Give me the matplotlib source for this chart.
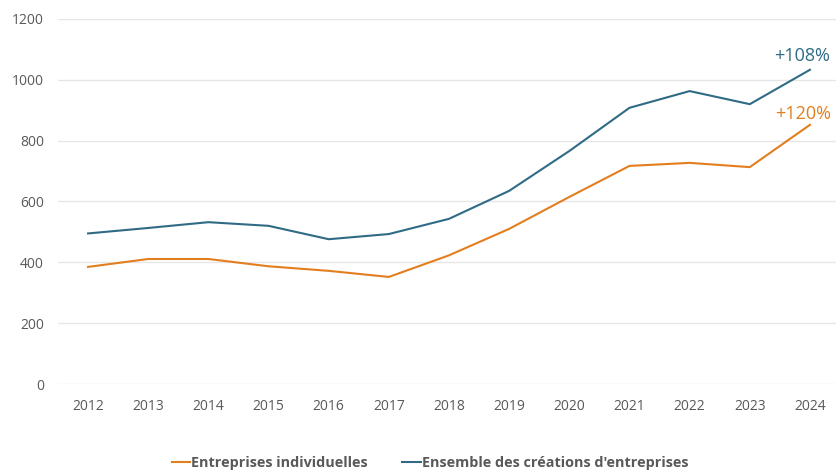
import matplotlib
matplotlib.use('Agg')
import matplotlib.pyplot as plt
from matplotlib.lines import Line2D

plt.rcParams['font.family'] = ['Open Sans', 'DejaVu Sans']

years = [2012, 2013, 2014, 2015, 2016, 2017, 2018, 2019, 2020, 2021, 2022, 2023, 2024]
ensemble = [495, 513, 532, 520, 476, 493, 543, 635, 766, 908, 963, 920, 1033]
individuelles = [385, 411, 411, 387, 372, 352, 423, 510, 615, 717, 727, 713, 852]
yticks = [0, 200, 400, 600, 800, 1000, 1200]

c_blue = '#2f6b85'
c_orange = '#e37e1f'
c_txt = '#595959'

fig = plt.figure(figsize=(8.37, 4.72), dpi=100)
ax = fig.add_axes([58 / 837, 1 - 384 / 472, 1 - 58 / 837, 365 / 472])

ax.plot(years, individuelles, color=c_orange, lw=1.5, solid_joinstyle='round')
ax.plot(years, ensemble, color=c_blue, lw=1.5, solid_joinstyle='round')

ax.set_ylim(0, 1200)
ax.set_xlim(2011.5, 2024.45)
ax.set_yticks(yticks)
ax.set_xticks(years)
ax.grid(axis='y', color='#e6e6e6', lw=1)
ax.set_axisbelow(True)
for s in ax.spines.values():
    s.set_visible(False)
ax.tick_params(length=0, labelsize=10, labelcolor=c_txt)
ax.tick_params(axis='y', pad=10)
ax.tick_params(axis='x', pad=11)

ax.annotate('+108%', (years[-1], ensemble[-1]), xytext=(-6, 6), textcoords='offset points',
            ha='center', va='baseline', color=c_blue, fontsize=13)
ax.annotate('+120%', (years[-1], individuelles[-1]), xytext=(-5, 4.5), textcoords='offset points',
            ha='center', va='baseline', color=c_orange, fontsize=13)

handles = [Line2D([0], [0], color=c_orange, lw=1.5),
           Line2D([0], [0], color=c_blue, lw=1.5)]
fig.legend(handles, ['Entreprises individuelles', "Ensemble des créations d'entreprises"],
           loc='center', bbox_to_anchor=(430 / 837, 1 - 463 / 472), ncol=2, frameon=False,
           handlelength=1.3, handletextpad=0.05, columnspacing=2.4,
           prop={'weight': 'bold', 'size': 10.4}, labelcolor=c_txt)

fig.savefig('out.png', dpi=100)
